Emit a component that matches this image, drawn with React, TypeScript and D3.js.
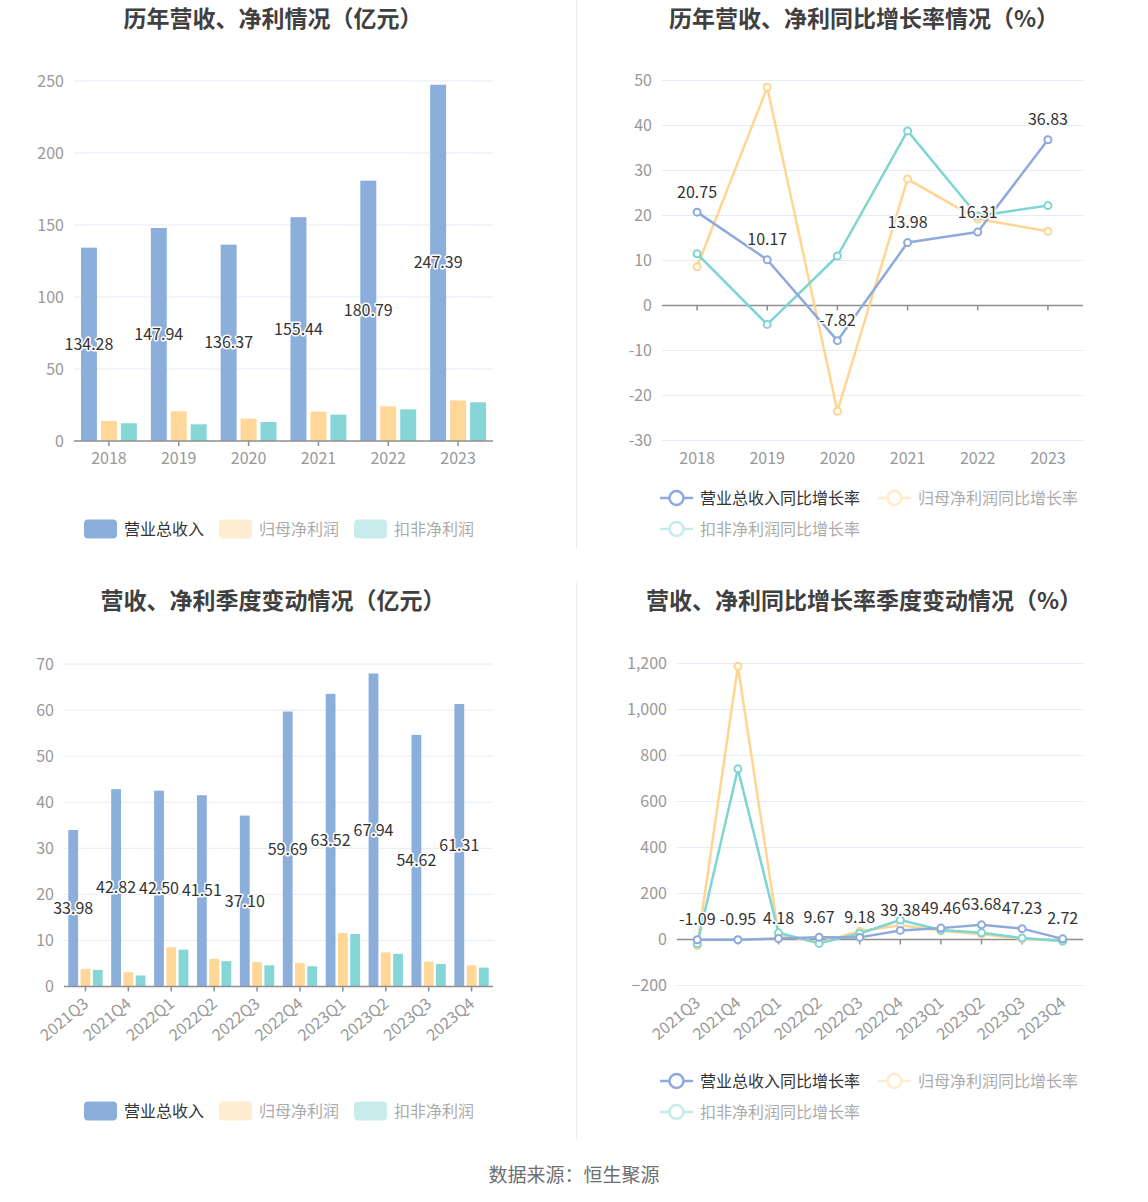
import React from 'react';
import * as d3 from 'd3';

const years = ['2018', '2019', '2020', '2021', '2022', '2023'];
const annualRevenue = [134.28, 147.94, 136.37, 155.44, 180.79, 247.39];
const annualNetProfit = [13.9, 20.6, 15.5, 20.4, 24.1, 28.2];
const annualDeductedProfit = [12.3, 11.6, 13.2, 18.3, 22.0, 26.9];

const annualRevenueGrowth = [20.75, 10.17, -7.82, 13.98, 16.31, 36.83];
const annualNetProfitGrowth = [8.6, 48.5, -23.5, 28.1, 19.2, 16.5];
const annualDeductedGrowth = [11.5, -4.2, 11.0, 38.8, 19.9, 22.2];

const quarters = ['2021Q3', '2021Q4', '2022Q1', '2022Q2', '2022Q3', '2022Q4', '2023Q1', '2023Q2', '2023Q3', '2023Q4'];
const quarterRevenue = [33.98, 42.82, 42.5, 41.51, 37.1, 59.69, 63.52, 67.94, 54.62, 61.31];
const quarterNetProfit = [3.8, 3.1, 8.5, 6.0, 5.3, 5.1, 11.6, 7.4, 5.4, 4.6];
const quarterDeductedProfit = [3.6, 2.4, 8.0, 5.5, 4.6, 4.4, 11.4, 7.1, 4.9, 4.1];

const quarterRevenueGrowth = [-1.09, -0.95, 4.18, 9.67, 9.18, 39.38, 49.46, 63.68, 47.23, 2.72];
const quarterNetProfitGrowth = [-26, 1188, 22, -14, 36, 62, 38, 23, 3, -7];
const quarterDeductedGrowth = [-19, 742, 29, -17, 26, 85, 41, 29, 6, -7];

const annualBarTicks = [0, 50, 100, 150, 200, 250];
const annualGrowthTicks = [-30, -20, -10, 0, 10, 20, 30, 40, 50];
const quarterBarTicks = [0, 10, 20, 30, 40, 50, 60, 70];
const quarterGrowthTicks = [-200, 0, 200, 400, 600, 800, 1000, 1200];

const barLegend = ['营业总收入', '归母净利润', '扣非净利润'];
const lineLegend = ['营业总收入同比增长率', '归母净利润同比增长率', '扣非净利润同比增长率'];

const titles = ['历年营收、净利情况（亿元）', '历年营收、净利同比增长率情况（%）', '营收、净利季度变动情况（亿元）', '营收、净利同比增长率季度变动情况（%）'];
const footer = '数据来源：恒生聚源';

const BAR_COLORS = ['#8caedb', '#ffd899', '#86d6d7'];
const LINE_COLORS = ['#8ea9dc', '#ffd591', '#7fd5d2'];
const FONT = '"Noto Sans CJK SC", "Noto Sans", sans-serif';
const GRID = '#e6eaf4';
const AXIS = '#8f8f8f';
const TICK_TEXT = '#999';

type ChartProps = {
  cats: string[];
  series: number[][];
  x0: number; x1: number; yTop: number; yBottom: number;
  domain: [number, number];
  ticks: number[];
  rotate?: boolean;
  tickFmt?: (v: number) => string;
};

function XLabels({ cats, centers, yBottom, rotate }: { cats: string[]; centers: number[]; yBottom: number; rotate?: boolean }) {
  return (
    <g>
      {cats.map((c, i) =>
        rotate ? (
          <text key={c} transform={`translate(${centers[i] + 4},${yBottom + 19}) rotate(-40)`} textAnchor="end" fontSize={16} fill={TICK_TEXT} fontFamily={FONT}>{c}</text>
        ) : (
          <text key={c} x={centers[i]} y={yBottom + 23} textAnchor="middle" fontSize={16} fill={TICK_TEXT} fontFamily={FONT}>{c}</text>
        )
      )}
    </g>
  );
}

function YAxis({ y, ticks, x0, x1, fmt, zero }: { y: d3.ScaleLinear<number, number>; ticks: number[]; x0: number; x1: number; fmt: (v: number) => string; zero: number }) {
  return (
    <g>
      {ticks.map((t) => (
        <g key={t}>
          {t !== zero && <line x1={x0} x2={x1} y1={y(t)} y2={y(t)} stroke={GRID} strokeWidth={1} />}
          <text x={x0 - 10} y={y(t)} dy="0.35em" textAnchor="end" fontSize={16} fill={TICK_TEXT} fontFamily={FONT}>{fmt(t)}</text>
        </g>
      ))}
    </g>
  );
}

function BarChart({ cats, series, x0, x1, yTop, yBottom, domain, ticks, rotate }: ChartProps) {
  const y = d3.scaleLinear().domain(domain).range([yBottom, yTop]);
  const x = d3.scaleBand<string>().domain(cats).range([x0, x1]).paddingInner(0.2).paddingOuter(0.1);
  const inner = d3.scaleBand<number>().domain([0, 1, 2]).range([0, x.bandwidth()]).paddingInner(0.2).paddingOuter(0);
  const centers = cats.map((c) => (x(c) as number) + x.bandwidth() / 2);
  const fmt = d3.format(',');
  return (
    <g>
      <YAxis y={y} ticks={ticks} x0={x0} x1={x1} fmt={(v) => fmt(v)} zero={0} />
      {series.map((s, si) => (
        <g key={si}>
          {s.map((v, i) => (
            <rect key={i} x={(x(cats[i]) as number) + (inner(si) as number)} y={y(v)} width={inner.bandwidth()} height={y(0) - y(v)} fill={BAR_COLORS[si]} />
          ))}
        </g>
      ))}
      <line x1={x0} x2={x1} y1={y(0)} y2={y(0)} stroke={AXIS} strokeWidth={1.5} />
      {centers.map((c, i) => (
        <line key={i} x1={c} x2={c} y1={y(0)} y2={y(0) + 5} stroke={AXIS} strokeWidth={1.5} />
      ))}
      {series[0].map((v, i) => (
        <text key={i} x={(x(cats[i]) as number) + (inner(0) as number) + inner.bandwidth() / 2} y={(y(v) + y(0)) / 2} dy="0.35em" textAnchor="middle" fontSize={16} fill="#333" stroke="#fff" strokeWidth={3} strokeLinejoin="round" paintOrder="stroke" fontFamily={FONT}>{v.toFixed(2)}</text>
      ))}
      <XLabels cats={cats} centers={centers} yBottom={yBottom} rotate={rotate} />
    </g>
  );
}

function LineChart({ cats, series, x0, x1, yTop, yBottom, domain, ticks, rotate, tickFmt }: ChartProps) {
  const y = d3.scaleLinear().domain(domain).range([yBottom, yTop]);
  const x = d3.scalePoint<string>().domain(cats).range([x0, x1]).padding(0.5);
  const centers = cats.map((c) => x(c) as number);
  const line = d3.line<number>().x((_, i) => centers[i]).y((v) => y(v));
  return (
    <g>
      <YAxis y={y} ticks={ticks} x0={x0} x1={x1} fmt={tickFmt || ((v) => String(v))} zero={0} />
      <line x1={x0} x2={x1} y1={y(0)} y2={y(0)} stroke={AXIS} strokeWidth={1.5} />
      {centers.map((c, i) => (
        <line key={i} x1={c} x2={c} y1={y(0)} y2={y(0) + 5} stroke={AXIS} strokeWidth={1.5} />
      ))}
      {[1, 2, 0].map((si) => (
        <g key={si}>
          <path d={line(series[si]) || ''} fill="none" stroke={LINE_COLORS[si]} strokeWidth={2.5} strokeLinejoin="round" />
          {series[si].map((v, i) => (
            <circle key={i} cx={centers[i]} cy={y(v)} r={3.5} fill="#fff" stroke={LINE_COLORS[si]} strokeWidth={2} />
          ))}
        </g>
      ))}
      {series[0].map((v, i) => (
        <text key={i} x={centers[i]} y={y(v) - 20} dy="0.35em" textAnchor="middle" fontSize={16} fill="#333" stroke="#fff" strokeWidth={3} strokeLinejoin="round" paintOrder="stroke" fontFamily={FONT}>{v.toFixed(2)}</text>
      ))}
      <XLabels cats={cats} centers={centers} yBottom={yBottom} rotate={rotate} />
    </g>
  );
}

function BarLegend({ y }: { y: number }) {
  const xs = [84, 219, 354];
  return (
    <g>
      {barLegend.map((t, i) => (
        <g key={t} opacity={i === 0 ? 1 : 0.45}>
          <rect x={xs[i]} y={y - 9.5} width={33} height={19} rx={4} fill={BAR_COLORS[i]} />
          <text x={xs[i] + 40} y={y} dy="0.35em" fontSize={16} fill={i === 0 ? '#333' : '#444'} fontFamily={FONT}>{t}</text>
        </g>
      ))}
    </g>
  );
}

function LineLegend({ y }: { y: number }) {
  const pos = [[660, y], [878, y], [660, y + 31]];
  return (
    <g>
      {lineLegend.map((t, i) => (
        <g key={t} opacity={i === 0 ? 1 : 0.45}>
          <line x1={pos[i][0]} x2={pos[i][0] + 33} y1={pos[i][1]} y2={pos[i][1]} stroke={LINE_COLORS[i]} strokeWidth={2.5} />
          <circle cx={pos[i][0] + 16.5} cy={pos[i][1]} r={7} fill="#fff" stroke={LINE_COLORS[i]} strokeWidth={2.5} />
          <text x={pos[i][0] + 40} y={pos[i][1]} dy="0.35em" fontSize={16} fill={i === 0 ? '#333' : '#444'} fontFamily={FONT}>{t}</text>
        </g>
      ))}
    </g>
  );
}

export default function App() {
  const commaFmt = d3.format(',');
  return (
    <svg width={1148} height={1202} style={{ position: 'absolute', left: 0, top: 0, background: '#fff' }} fontFamily={FONT}>
      <rect width={1148} height={1202} fill="#fff" />
      <line x1={576.5} x2={576.5} y1={0} y2={549} stroke="#eeeeee" strokeWidth={1} />
      <line x1={576.5} x2={576.5} y1={582} y2={1140} stroke="#eeeeee" strokeWidth={1} />

      <text x={273} y={27} textAnchor="middle" fontSize={23} fontWeight="bold" fill="#404040">{titles[0]}</text>
      <text x={864} y={27} textAnchor="middle" fontSize={23} fontWeight="bold" fill="#404040">{titles[1]}</text>
      <text x={273} y={609} textAnchor="middle" fontSize={23} fontWeight="bold" fill="#404040">{titles[2]}</text>
      <text x={864} y={609} textAnchor="middle" fontSize={23} fontWeight="bold" fill="#404040">{titles[3]}</text>

      <BarChart cats={years} series={[annualRevenue, annualNetProfit, annualDeductedProfit]} x0={74} x1={493} yTop={81} yBottom={441} domain={[0, 250]} ticks={annualBarTicks} />
      <LineChart cats={years} series={[annualRevenueGrowth, annualNetProfitGrowth, annualDeductedGrowth]} x0={662} x1={1083} yTop={80.5} yBottom={440.5} domain={[-30, 50]} ticks={annualGrowthTicks} />
      <BarChart cats={quarters} series={[quarterRevenue, quarterNetProfit, quarterDeductedProfit]} x0={64} x1={493} yTop={664} yBottom={986.5} domain={[0, 70]} ticks={quarterBarTicks} rotate />
      <LineChart cats={quarters} series={[quarterRevenueGrowth, quarterNetProfitGrowth, quarterDeductedGrowth]} x0={677} x1={1083} yTop={663.5} yBottom={985.5} domain={[-200, 1200]} ticks={quarterGrowthTicks} rotate tickFmt={(v) => commaFmt(v)} />

      <BarLegend y={529} />
      <LineLegend y={498} />
      <BarLegend y={1111} />
      <LineLegend y={1081} />

      <text x={574} y={1175} dy="0.35em" textAnchor="middle" fontSize={19} fill="#6e6e6e">{footer}</text>
    </svg>
  );
}
